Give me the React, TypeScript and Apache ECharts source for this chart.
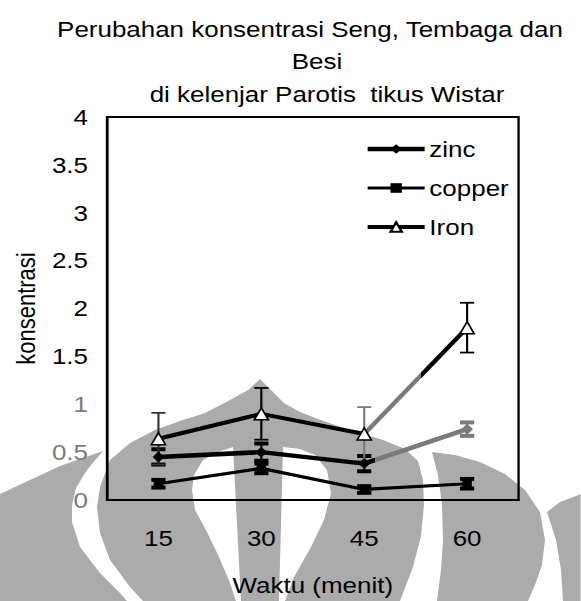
import React, { useEffect, useRef } from 'react';
import * as echarts from 'echarts';

// ---- data ----
const categories = ['15', '30', '45', '60'];
const zinc = [0.45, 0.5, 0.38, 0.74];
const zincErr = [0.08, 0.09, 0.08, 0.07];
const copper = [0.17, 0.33, 0.11, 0.17];
const copperErr = [0.04, 0.05, 0.035, 0.05];
const iron = [0.64, 0.9, 0.69, 1.8];
const ironErr = [0.27, 0.27, 0.28, 0.26];
const yMin = 0;
const yMax = 4;
const yStep = 0.5;
const titleLines = [
  'Perubahan konsentrasi Seng, Tembaga dan',
  'Besi',
  'di kelenjar Parotis  tikus Wistar',
];
const seriesNames = ['zinc', 'copper', 'Iron'];

// ---- layout / style ----
const SX = 1.18; // the reference is stretched horizontally
const W = 581;
const H = 601;
const CW = W / SX;
const px = (x: number) => x / SX;
const FONT = 'Liberation Sans, Arial, Helvetica, sans-serif';
const FS = 22;
const WM = '#ababab';
const LIGHT = '#7a7a7a';

// watermark shapes (page coordinates)
const wmShapes: number[][][] = [
  [[0, 494], [30, 480], [60, 466], [103, 451], [87, 470], [76, 488], [72, 505], [72, 522], [80, 547], [100, 573], [120, 593], [127, 601], [0, 601]],
  [[260, 379], [248, 390], [230, 400], [205, 413], [180, 421], [155, 430], [130, 443], [110, 460], [100, 487], [97, 507], [100, 533], [110, 560], [130, 587], [143, 601],
   [400, 601], [413, 567], [421, 536], [424, 505], [423, 480], [418, 461], [405, 449], [383, 440], [357, 432], [338, 426], [318, 419], [300, 412], [284, 403], [272, 391]],
  [[432, 452], [455, 455], [480, 462], [505, 474], [525, 490], [540, 512], [545, 540], [542, 565], [535, 585], [528, 601], [437, 601], [441, 570], [443, 540], [442, 505], [438, 475]],
  [[547, 512], [560, 502], [581, 494], [581, 601], [563, 601], [561, 570], [556, 540]],
];
const wmWhite: number[][][] = [
  [[233, 447], [218, 452], [203, 460], [194, 475], [192, 490], [195, 510], [206, 530], [219, 557], [230, 583], [236, 601], [241, 601]],
  [[283, 447], [300, 449], [315, 455], [327, 470], [331, 493], [324, 520], [311, 547], [294, 577], [285, 601], [279, 601]],
];

const graphicEls: any[] = [
  ...wmShapes.map((pts) => ({
    type: 'polygon',
    z: -10,
    silent: true,
    shape: { points: pts.map(([x, y]) => [px(x), y]) },
    style: { fill: WM },
  })),
  ...wmWhite.map((pts) => ({
    type: 'polygon',
    z: -9,
    silent: true,
    shape: { points: pts.map(([x, y]) => [px(x), y]) },
    style: { fill: '#fff' },
  })),
];

function errSeries(name: string, vals: number[], errs: number[], capW: number, lw: number, colors: string[]) {
  return {
    type: 'custom',
    name: name + ' err',
    z: 3,
    encode: { x: 0, y: [1, 2] },
    data: vals.map((v, i) => [i, v - errs[i], v + errs[i]]),
    renderItem: (params: any, api: any) => {
      const i = api.value(0);
      const lo = api.coord([i, api.value(1)]);
      const hi = api.coord([i, api.value(2)]);
      const c = colors[params.dataIndex] || '#000';
      const st = { stroke: c, lineWidth: lw };
      return {
        type: 'group',
        children: [
          { type: 'line', shape: { x1: lo[0], y1: lo[1], x2: hi[0], y2: hi[1] }, style: { stroke: c, lineWidth: 1.8 } },
          { type: 'line', shape: { x1: lo[0] - capW / 2, y1: lo[1], x2: lo[0] + capW / 2, y2: lo[1] }, style: st },
          { type: 'line', shape: { x1: hi[0] - capW / 2, y1: hi[1], x2: hi[0] + capW / 2, y2: hi[1] }, style: st },
        ],
      };
    },
  };
}

const hardGradient = (from: number, to: number) =>
  new echarts.graphic.LinearGradient(0, 0, 1, 0, [
    { offset: 0, color: '#000' },
    { offset: from, color: '#000' },
    { offset: from, color: LIGHT },
    { offset: to, color: LIGHT },
    { offset: to, color: '#000' },
    { offset: 1, color: '#000' },
  ]);

const legendWidths = [4.5, 3.2, 4];

const option: any = {
  animation: false,
  backgroundColor: '#fff',
  textStyle: { fontFamily: FONT },
  title: [
    { text: titleLines[0], left: px(310), top: 18 },
    { text: titleLines[1], left: px(317), top: 50 },
    { text: titleLines[2], left: px(327), top: 83 },
  ].map((t) => ({
    ...t,
    textAlign: 'center',
    padding: 0,
    textStyle: { fontFamily: FONT, fontSize: FS, fontWeight: 'normal', color: '#000' },
  })),
  grid: {
    left: px(107),
    right: CW - px(519),
    top: 117,
    bottom: H - 504,
    show: true,
    borderColor: '#000',
    borderWidth: 2,
    backgroundColor: 'transparent',
  },
  legend: {
    orient: 'vertical',
    left: px(365),
    top: 138,
    padding: 0,
    itemWidth: px(57),
    itemHeight: 12,
    itemGap: 17,
    textStyle: { fontFamily: FONT, fontSize: FS, color: '#000', padding: [0, 0, 0, -1] },
    data: seriesNames.map((n, i) => ({ name: n, lineStyle: { color: '#000', width: legendWidths[i] } })),
  },
  xAxis: {
    type: 'category',
    data: categories,
    boundaryGap: true,
    axisLine: { lineStyle: { color: '#000', width: 2 } },
    axisTick: { show: false },
    axisLabel: { margin: 27, fontSize: FS, color: '#000', fontFamily: FONT },
    splitLine: { show: false },
    name: 'Waktu (menit)',
    nameLocation: 'middle',
    nameGap: 74,
    nameTextStyle: { fontSize: FS, color: '#000', fontFamily: FONT },
  },
  yAxis: {
    type: 'value',
    min: yMin,
    max: yMax,
    interval: yStep,
    axisLine: { show: true, lineStyle: { color: '#000', width: 2 } },
    axisTick: { show: false },
    splitLine: { show: false },
    axisLabel: {
      margin: px(19),
      fontSize: FS,
      fontFamily: FONT,
      color: (v: any) => (Number(v) <= 1 ? LIGHT : '#000'),
    },
    name: 'konsentrasi',
    nameLocation: 'middle',
    nameGap: 57,
    nameTextStyle: { fontSize: FS, color: '#000', fontFamily: FONT },
  },
  series: [
    {
      type: 'line',
      name: seriesNames[0],
      data: zinc.map((v, i) => (i === 3 ? { value: v, itemStyle: { color: LIGHT } } : v)),
      color: '#000',
      symbol: 'diamond',
      symbolSize: [10, 11],
      lineStyle: { width: legendWidths[0], color: hardGradient(0.7, 1.01) },
      itemStyle: { color: '#000' },
      z: 4,
    },
    {
      type: 'line',
      name: seriesNames[1],
      data: copper,
      color: '#000',
      symbol: 'rect',
      symbolSize: [8, 7],
      lineStyle: { width: legendWidths[1], color: '#000' },
      itemStyle: { color: '#000' },
      z: 4,
    },
    {
      type: 'line',
      name: seriesNames[2],
      data: iron,
      color: '#000',
      symbol: 'triangle',
      symbolSize: [12, 12],
      lineStyle: { width: legendWidths[2], color: hardGradient(0.667, 0.85) },
      itemStyle: { color: '#fff', borderColor: '#000', borderWidth: 1.5 },
      z: 5,
    },
    errSeries('zinc', zinc, zincErr, 12, 4, ['#000', '#000', '#000', LIGHT]),
    errSeries('copper', copper, copperErr, 12, 4, ['#000', '#000', '#000', '#000']),
    errSeries('Iron', iron, ironErr, 12, 1.8, ['#333', '#000', LIGHT, '#000']),
  ],
  graphic: graphicEls,
};

export default function App() {
  const ref = useRef<HTMLDivElement>(null);
  useEffect(() => {
    if (!ref.current) return;
    const chart = echarts.init(ref.current, null, { renderer: 'svg' });
    chart.setOption(option);
    return () => chart.dispose();
  }, []);
  return (
    <div style={{ position: 'fixed', left: 0, top: 0, width: W, height: H, overflow: 'hidden', background: '#fff' }}>
      <div
        ref={ref}
        style={{ width: CW, height: H, transform: `scaleX(${SX})`, transformOrigin: '0 0' }}
      />
    </div>
  );
}
